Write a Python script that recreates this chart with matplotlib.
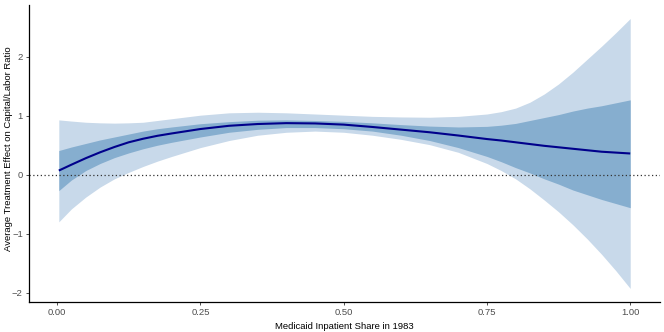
import matplotlib
matplotlib.use("Agg")
import matplotlib.pyplot as plt
from matplotlib.ticker import FixedLocator

# Data
share = [0.003, 0.025, 0.05, 0.075, 0.10, 0.125, 0.15, 0.175, 0.20, 0.25, 0.30,
         0.35, 0.40, 0.45, 0.50, 0.55, 0.60, 0.65, 0.70, 0.75, 0.775, 0.80,
         0.825, 0.85, 0.875, 0.90, 0.925, 0.95, 0.975, 1.00]
effect = [0.07, 0.17, 0.28, 0.38, 0.47, 0.55, 0.61, 0.66, 0.70, 0.775, 0.83,
          0.86, 0.875, 0.87, 0.85, 0.81, 0.765, 0.72, 0.665, 0.605, 0.58, 0.55,
          0.52, 0.49, 0.465, 0.44, 0.415, 0.39, 0.375, 0.36]
outer_hi = [0.93, 0.91, 0.89, 0.88, 0.875, 0.88, 0.89, 0.92, 0.95, 1.01, 1.05,
            1.06, 1.05, 1.03, 1.01, 0.99, 0.98, 0.975, 0.99, 1.03, 1.07, 1.13,
            1.23, 1.37, 1.54, 1.74, 1.96, 2.18, 2.41, 2.65]
outer_lo = [-0.80, -0.58, -0.38, -0.21, -0.07, 0.04, 0.14, 0.23, 0.31, 0.46, 0.58,
            0.67, 0.72, 0.74, 0.72, 0.67, 0.60, 0.51, 0.38, 0.19, 0.07, -0.07,
            -0.24, -0.43, -0.63, -0.85, -1.09, -1.35, -1.63, -1.93]
inner_hi = [0.41, 0.47, 0.53, 0.59, 0.64, 0.69, 0.74, 0.78, 0.81, 0.865, 0.90,
            0.925, 0.93, 0.92, 0.905, 0.88, 0.85, 0.825, 0.81, 0.82, 0.84, 0.87,
            0.92, 0.97, 1.02, 1.08, 1.13, 1.17, 1.22, 1.27]
inner_lo = [-0.27, -0.09, 0.07, 0.19, 0.29, 0.37, 0.44, 0.50, 0.55, 0.64, 0.72,
            0.77, 0.80, 0.80, 0.78, 0.74, 0.67, 0.58, 0.46, 0.31, 0.22, 0.12,
            0.03, -0.07, -0.16, -0.26, -0.34, -0.42, -0.49, -0.56]

x_ticks = [0.0, 0.25, 0.5, 0.75, 1.0]
x_ticklabels = ["0.00", "0.25", "0.50", "0.75", "1.00"]
y_ticks = [-2, -1, 0, 1, 2]
y_ticklabels = ["\u22122", "\u22121", "0", "1", "2"]

plt.rcParams['font.family'] = ['Liberation Sans', 'DejaVu Sans']

fig = plt.figure(figsize=(6.64, 3.32), dpi=100)
ax = fig.add_axes([0.0437, 0.0904, 0.9503, 0.8946])

ax.fill_between(share, outer_lo, outer_hi, color='#C8D9EA', linewidth=0)
ax.fill_between(share, inner_lo, inner_hi, color='#86AECF', linewidth=0)
ax.axhline(0, color='#333333', linestyle=(0, (1, 2)), linewidth=0.9)
ax.plot(share, effect, color='#00008B', linewidth=1.5, solid_capstyle='butt')

ax.set_xlim(-0.049, 1.052)
ax.set_ylim(-2.16, 2.88)
ax.xaxis.set_major_locator(FixedLocator(x_ticks))
ax.set_xticklabels(x_ticklabels)
ax.yaxis.set_major_locator(FixedLocator(y_ticks))
ax.set_yticklabels(y_ticklabels)

for s in ['top', 'right']:
    ax.spines[s].set_visible(False)
for s in ['left', 'bottom']:
    ax.spines[s].set_color('black')
    ax.spines[s].set_linewidth(0.9)

ax.tick_params(axis='both', colors='#333333', labelcolor='#4D4D4D',
               labelsize=6.8, length=2.5, width=0.6, pad=2)

ax.set_xlabel("Medicaid Inpatient Share in 1983", fontsize=6.8)
ax.set_ylabel("Average Treatment Effect on Capital/Labor Ratio", fontsize=6.8)
ax.yaxis.set_label_coords(-0.026, 0.515)
ax.xaxis.set_label_coords(0.5, -0.068)

fig.savefig("out.png", dpi=100)
